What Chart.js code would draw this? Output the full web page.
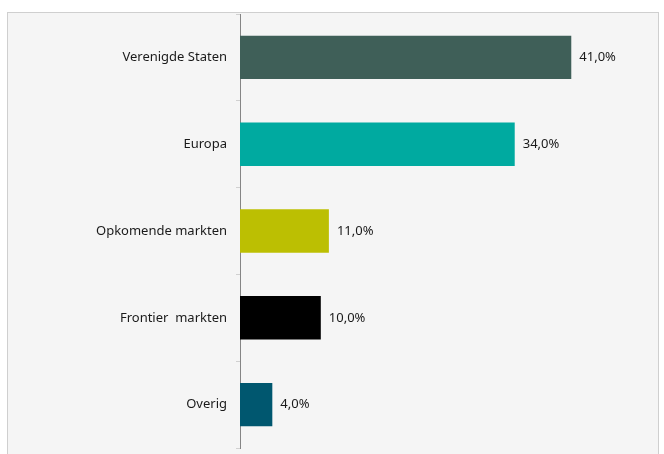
<!DOCTYPE html>
<html>
<head>
<meta charset="utf-8">
<script src="https://cdn.jsdelivr.net/npm/chart.js@4/dist/chart.umd.min.js"></script>
<style>
  html, body { margin: 0; padding: 0; background: #ffffff; }
  body { width: 664px; height: 454px; position: relative; overflow: hidden; }
  #box { position: absolute; left: 7px; top: 12px; width: 650px; height: 460px;
         background: #f5f5f5; border: 1px solid #cfcfcf; }
  #wrap { position: absolute; left: 0; top: 0; width: 664px; height: 454px; }
</style>
</head>
<body>
<div id="box"></div>
<div id="wrap"><canvas id="c" width="664" height="454"></canvas></div>
<script>
const categories = ["Verenigde Staten", "Europa", "Opkomende markten", "Frontier  markten", "Overig"];
const values = [41.0, 34.0, 11.0, 10.0, 4.0];
const barColors = ["#3f5f58", "#00aaa0", "#bcbf02", "#000000", "#00576f"];

const valueLabels = {
  id: 'valueLabels',
  afterDatasetsDraw(chart) {
    const ctx = chart.ctx;
    const meta = chart.getDatasetMeta(0);
    ctx.save();
    ctx.font = '13px "Noto Sans", sans-serif';
    ctx.fillStyle = '#1a1a1a';
    ctx.textAlign = 'left';
    ctx.textBaseline = 'middle';
    meta.data.forEach((bar, i) => {
      const v = chart.data.datasets[0].data[i];
      ctx.fillText(v.toFixed(1).replace('.', ',') + '%', bar.x + 8, bar.y);
    });
    ctx.restore();
  }
};

new Chart(document.getElementById('c'), {
  type: 'bar',
  data: {
    labels: categories,
    datasets: [{
      data: values,
      backgroundColor: barColors,
      borderWidth: 0,
      barPercentage: 0.5,
      categoryPercentage: 1.0
    }]
  },
  options: {
    indexAxis: 'y',
    responsive: false,
    animation: false,
    devicePixelRatio: 1,
    layout: { padding: { left: 0, right: 20, top: 14, bottom: 6 } },
    plugins: { legend: { display: false }, tooltip: { enabled: false } },
    scales: {
      x: { display: false, min: 0, max: 50 },
      y: {
        afterFit(scale) { scale.width = 240; scale.paddingTop = 0; scale.paddingBottom = 0; },
        border: { display: true, color: '#858585', width: 1 },
        grid: { drawOnChartArea: false, drawTicks: true, tickLength: 4, color: '#d0d0d0', offset: true },
        ticks: { color: '#1a1a1a', padding: 9, font: { family: '"Noto Sans", sans-serif', size: 13 } }
      }
    }
  },
  plugins: [valueLabels]
});
</script>
</body>
</html>
